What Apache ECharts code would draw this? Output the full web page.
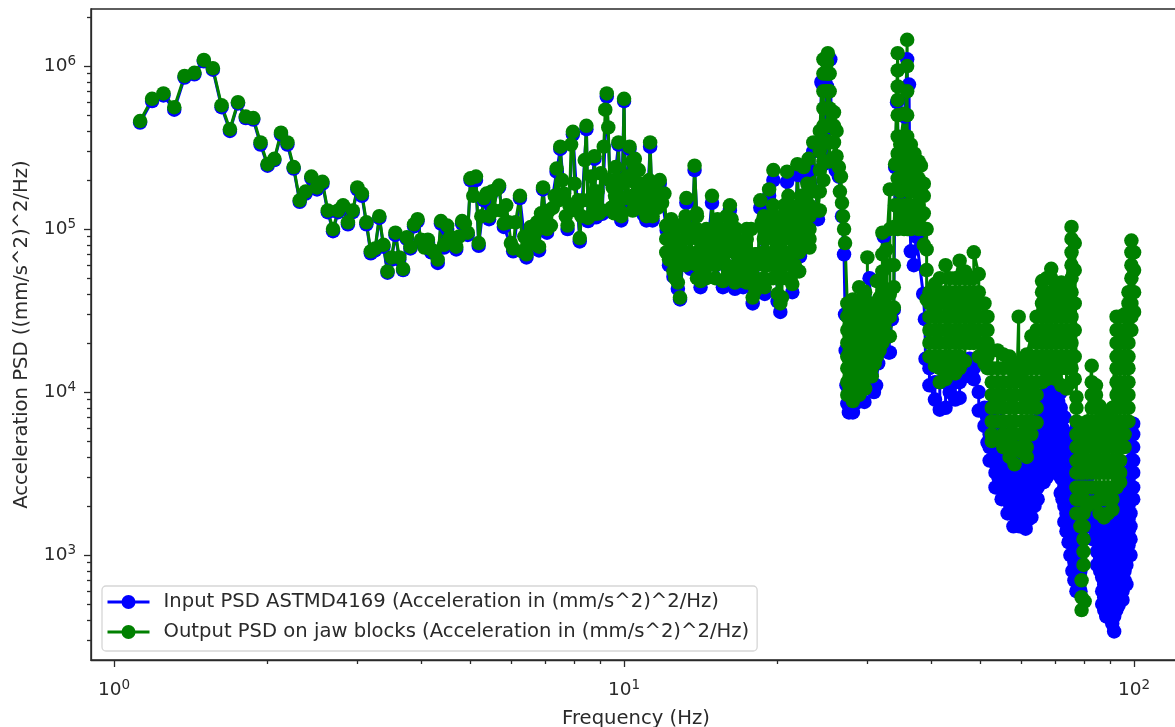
<!DOCTYPE html>
<html><head><meta charset="utf-8">
<style>html,body{margin:0;padding:0;background:#fff}#c{width:1175px;height:727px}</style>
<script src="https://cdn.jsdelivr.net/npm/echarts@6/dist/echarts.min.js"></script>
</head><body><div id="c"></div>
<script>
// Values: [frequency Hz, PSD]
const outputPoints = [
[1.125,4.6e5],[1.1875,6.3e5],[1.25,6.8e5],[1.3125,5.6e5],[1.375,8.7e5],[1.4375,9.1e5],[1.5,1.09e6],[1.5625,9.7e5],[1.625,5.75e5],[1.6875,4.1e5],[1.75,6e5],[1.8125,4.9e5],[1.875,4.8e5],[1.9375,3.4e5],[2,2.5e5],[2.0625,2.7e5],[2.125,3.9e5],[2.1875,3.4e5],[2.25,2.4e5],[2.3125,1.5e5],[2.375,1.7e5],[2.4375,2.1e5],[2.5,1.8e5],[2.5625,1.95e5],[2.625,1.3e5],[2.6875,1e5],[2.75,1.3e5],[2.8125,1.4e5],[2.875,1.1e5],[2.9375,1.3e5],[3,1.8e5],[3.0625,1.65e5],[3.125,1.1e5],[3.1875,7.3e4],[3.25,7.6e4],[3.3125,1.2e5],[3.375,8e4],[3.4375,5.5e4],[3.5,6.7e4],[3.5625,9.5e4],[3.625,6.7e4],[3.6875,5.7e4],[3.75,8.9e4],[3.8125,7.8e4],[3.875,1.07e5],[3.9375,1.15e5],
[4,8.6e4],[4.0625,7.7e4],[4.125,8.6e4],[4.1875,7.5e4],[4.25,7.2e4],[4.3125,6.5e4],[4.375,1.12e5],[4.4375,8e4],[4.5,1.05e5],[4.5625,9e4],[4.625,8.3e4],[4.6875,7.8e4],[4.75,9e4],[4.8125,1.12e5],[4.875,1.08e5],[4.9375,9.5e4],[5,2.05e5],[5.0625,1.6e5],[5.125,2.1e5],[5.1875,8.2e4],
[5.25,1.2e5],[5.3125,1.55e5],[5.375,1.65e5],[5.4375,1.2e5],[5.5,1.7e5],[5.5625,1.3e5],[5.625,1.75e5],[5.6875,1.85e5],[5.75,1.3e5],[5.8125,1.08e5],[5.875,1.4e5],[5.9375,1.1e5],[6,8.2e4],[6.0625,7.6e4],[6.125,1.1e5],[6.25,1.6e5],[6.3125,7.3e4],[6.375,9e4],[6.4375,7e4],[6.5,8.2e4],[6.5625,1.03e5],[6.625,8.2e4],[6.6875,9.5e4],[6.75,1.1e5],[6.8125,7.8e4],[6.875,1.25e5],[6.9375,1.8e5],[7,1.2e5],[7.0625,1e5],[7.125,1.3e5],[7.1875,1.05e5],[7.25,1.35e5],[7.3125,1.6e5],[7.375,2.35e5],[7.4375,1.5e5],[7.5,3.2e5],[7.5625,2e5],[7.625,1.65e5],[7.6875,1.2e5],[7.75,1.05e5],[7.8125,1.4e5],[7.875,3.3e5],[7.9375,3.95e5],[8,1.9e5],[8.0625,1.3e5],
[8.125,1.5e5],[8.1875,8.8e4],[8.25,1.2e5],[8.3125,1.5e5],[8.375,2.65e5],[8.4375,4.3e5],[8.5,1.17e5],[8.5625,1.5e5],[8.625,2.1e5],[8.6875,1.25e5],[8.75,2.8e5],[8.8125,1.24e5],[8.875,1.7e5],[8.9375,1.25e5],[9,2.2e5],[9.0625,1.3e5],[9.125,3.2e5],[9.1875,5.4e5],[9.25,6.8e5],[9.3125,4.2e5],[9.375,2e5],[9.4375,1.35e5],[9.5,1.8e5],[9.5625,1.25e5],[9.625,2.4e5],[9.6875,1.5e5],[9.75,3.4e5],[9.8125,1.3e5],[9.875,1.2e5],[9.9375,2e5],[10,6.3e5],[10.0625,1.55e5],[10.125,2.1e5],[10.1875,1.55e5],[10.25,3.2e5],[10.3125,2e5],[10.375,2.6e5],[10.4375,1.6e5],[10.5,2.7e5],[10.5625,1.9e5],[10.625,1.4e5],[10.6875,2.3e5],[10.75,1.65e5],[10.8125,1.5e5],[10.875,1.9e5],[10.9375,1.3e5],[11,1.65e5],[11.0625,1.2e5],[11.125,1.5e5],[11.25,3.4e5],
[11.375,1.2e5],[11.5,1.8e5],[11.625,1.35e5],[11.75,2e5],[11.875,1.45e5],[12,1.65e5],[12.125,1.05e5],[12.25,6.5e4],[12.375,1.15e5],[12.5,5.5e4],[12.625,8e4],[12.75,4.7e4],[12.875,3.8e4],[13,7e4],[13.125,1.1e5],[13.25,1.55e5],[13.375,9e4],[13.5,6.2e4],[13.625,1e5],[13.75,2.45e5],[13.875,1.25e5],[14,7e4],[14.125,4.8e4],[14.25,7.5e4],[14.375,5.5e4],[14.5,8.5e4],[14.625,6e4],[14.75,8e4],[14.875,1.6e5],[15,1e5],[15.125,6.5e4],[15.25,1.15e5],[15.375,7e4],[15.5,1e5],[15.625,4.8e4],[15.75,7.5e4],[15.875,1.2e5],[16,5.5e4],[16.125,1.4e5],[16.25,1.15e5],[16.375,8e4],[16.5,4.7e4],[16.625,7e4],[16.75,5e4],[17,6.5e4],[17.125,4.8e4],[17.25,8e4],[17.5,5.2e4],[17.75,1e5],[17.875,3.8e4],[18,4.5e4],[18.125,7e4],[18.25,4.5e4],[18.5,1.5e5],[18.625,1.1e5],[18.75,7e4],[18.875,4.4e4],[19,9e4],[19.125,6e4],[19.25,1.75e5],[19.375,1e5],[19.5,7e4],[19.625,2.3e5],[19.75,1.1e5],[19.875,6e4],[20,4e4],[20.125,7.5e4],[20.25,3.5e4],[20.375,1.1e5],[20.5,6e4],[20.625,1.4e5],[20.75,5e4],[20.875,2.25e5],[21,1.6e5],[21.125,7e4],[21.25,1e5],[21.375,4.6e4],[21.5,1.3e5],[21.625,6e4],[21.75,9e4],[21.875,2.5e5],[22,1.2e5],[22.125,7.7e4],[22.25,1.6e5],[22.375,1.1e5],[22.5,2.4e5],[22.625,1.15e5],[22.75,1.6e5],
[22.875,1.9e5],[23,2.7e5],[23.25,1.3e5],[23.5,3.4e5],[23.75,1.7e5],[24,1.3e5],
[26.375,2.4e5],[26.5,1.7e5],[26.625,2.1e5],[26.75,1.45e5],[26.875,1.2e5],[27,1e5],[27.125,8.2e4]
];
// Dense stretches, read column by column: [frequency Hz, [PSD values going through the column]]
const outputColumns = [
[9.6,[1.3e5,1.6e5,2e5]],[10.4,[2e5,1.6e5,1.3e5]],[11.2,[1.25e5,1.6e5,2e5]],
[12.1,[1.05e5,8.7e4,7.2e4]],[12.6,[1e5,8.7e4,7.2e4,6e4,5e4]],[13.2,[6e4,7.2e4,8.7e4,1e5,1.2e5]],[13.9,[1.2e5,1e5,8.7e4,7.2e4,6e4,5e4]],[14.5,[5e4,6e4,7.2e4,8.7e4,1e5]],[15.1,[1e5,8.7e4,7.2e4,6e4,5e4]],[15.9,[5e4,6e4,7.2e4,8.7e4,1e5]],[16.6,[1e5,8.7e4,7.2e4,6e4,5e4]],[17.4,[4.7e4,6e4,7.2e4,8.7e4,1e5]],[18.1,[7e4,6e4,5e4,4.2e4]],[18.8,[5e4,6e4,7.2e4,8.7e4,1e5,1.2e5]],[19.6,[1.4e5,1.2e5,1e5,8.7e4,7.2e4,6e4,5e4]],[20.4,[3.8e4,5e4,6e4,7.2e4,8.7e4,1e5,1.2e5]],[21.2,[1.4e5,1.2e5,1e5,8.7e4,7.2e4,6e4,5e4]],[22.05,[5.5e4,7.2e4,8.7e4,1e5,1.2e5,1.4e5]],[23.1,[1.4e5,1.2e5,1e5,8.7e4,7.7e4]],
[24.2,[1.3e5,1.7e5,2.3e5,3e5,4e5]],[24.6,[1.1e6,9e5,7e5,5.5e5,4.3e5,3.4e5,2.6e5,2e5]],[25,[2.6e5,3.4e5,4.3e5,5.5e5,7e5,9e5,1.05e6]],[25.1,[1.2e6,9e5,7e5]],[25.3,[9e5,7e5,5.5e5,4.3e5,3.4e5,2.6e5]],[25.8,[2.6e5,3.4e5,4.3e5,5.2e5]],[26.1,[4e5,2.8e5]],
[27.4,[3.5e4,2.9e4,2.4e4,2e4,1.65e4,1.4e4,1.15e4,9.6e3]],[27.7,[1.05e4,1.25e4,1.5e4,1.8e4,2.2e4,2.6e4,3.2e4]],[28.1,[3.7e4,2.9e4,2.4e4,2e4,1.65e4,1.4e4,1.15e4,8.8e3]],[28.5,[1.05e4,1.25e4,1.5e4,1.8e4,2.2e4,2.6e4,3.2e4]],[28.9,[4.4e4,3.5e4,2.9e4,2.4e4,2e4,1.65e4,1.4e4,1.15e4,9.6e3]],[29.3,[1.05e4,1.25e4,1.5e4,1.8e4,2.2e4,2.6e4,3.2e4]],[29.7,[4.1e4,3.5e4,2.9e4,2.4e4,2e4,1.65e4,1.4e4,1.05e4]],[30,[1.25e4,3.5e4,6.7e4,3.5e4]],[30.3,[3.2e4,2.6e4,2.2e4,1.8e4,1.5e4,1.25e4]],[30.6,[1.25e4,1.4e4,1.65e4,2e4,2.4e4,2.9e4,3.5e4]],[31,[3.2e4,2.6e4,2.2e4,1.8e4,1.5e4]],[31.3,[1.65e4,2e4,2.4e4,2.9e4,3.5e4,4.8e4]],[31.7,[3.8e4,3.2e4,2.6e4,2.2e4,1.8e4]],[32.1,[2e4,2.4e4,2.9e4,3.5e4,4.1e4,5.5e4,7e4,9.5e4]],[32.4,[3.8e4,3.2e4,2.6e4,2.2e4]],[32.7,[2.2e4,2.9e4,4e4,7.5e4]],[33.2,[1.75e5,1e5,6e4,4e4,2.9e4,2.2e4]],[33.8,[3.3e4,4.4e4,6e4,1.03e5]],[34,[1.4e5,2.5e5]],
[34.4,[1.2e6,9.4e5,7.5e5,6.2e5,5e5,3.7e5,2.9e5,2.05e5,1.4e5,1e5]],[34.8,[1.2e5,1.7e5,2.45e5,3.3e5]],[35.4,[5.1e5,3.7e5,2.9e5,2.05e5,1.4e5,1e5]],[35.9,[1.45e6,1e6,7e5,5e5,3.7e5,2.9e5,2.05e5,1.4e5,1e5]],[36.2,[1.2e5,1.7e5,2.45e5,3.3e5]],[36.5,[3.3e5,2.9e5,2.05e5,1.4e5,1e5]],[37.1,[1.2e5,1.7e5,2.45e5,2.9e5]],[37.4,[2.05e5,1.4e5,1.1e5]],[37.8,[1e5,1.4e5,2.05e5,2.6e5]],[38.2,[2.45e5,1.7e5,1.2e5]],[38.7,[1.9e5,1.6e5,1.25e5,1e5,8e4]],[39.2,[1e5,7.5e4,5.6e4,3.7e4]],
[39.7,[4.1e4,3.5e4,2.9e4,2.4e4,2e4,1.65e4]],[40.7,[1.45e4,1.65e4,2e4,2.4e4,2.9e4,3.5e4,4.6e4]],[41.6,[5e4,4.1e4,3.5e4,2.9e4,2.4e4,2e4,1.65e4,1.4e4,1.15e4]],[42.7,[1.2e4,1.4e4,1.65e4,2e4,2.4e4,2.9e4,3.5e4,4.1e4,6e4]],[43.5,[5e4,4.1e4,3.5e4,2.9e4,2.4e4,2e4,1.65e4,1.4e4,1.3e4]],[44.6,[1.3e4,1.65e4,2e4,2.4e4,2.9e4,3.5e4,4.1e4,5e4]],[45.5,[6.4e4,5e4,4.1e4,3.5e4,2.9e4,2.4e4,2e4,1.65e4,1.4e4]],[46.6,[1.55e4,2e4,2.4e4,2.9e4,3.5e4,4.1e4,5e4,5.5e4]],[47.6,[5e4,4.1e4,3.5e4,2.9e4,2.4e4,2e4]],[48.5,[2e4,2.4e4,2.9e4,3.5e4,4.1e4,5e4,7.2e4]],[49.6,[5.3e4,4.1e4,3.5e4,2.9e4,2.4e4,2e4,1.65e4]],[50.9,[1.5e4,1.8e4,2e4,2.4e4,2.9e4,3.5e4]],[51.6,[2.9e4,2.4e4,2e4,1.65e4,1.4e4]],
[52.6,[1.8e4,1.4e4,1.15e4,9.6e3,8e3,6.6e3,5.5e3,5e3]],[54,[5.2e3,6.6e3,8e3,9.6e3,1.15e4,1.4e4,1.8e4]],[55.4,[1.7e4,1.4e4,1.15e4,9.6e3,8e3,6.6e3,5.5e3,4.6e3]],[57,[4e3,4.6e3,5.5e3,6.6e3,8e3,9.6e3,1.15e4,1.4e4,1.65e4]],[58.3,[1.25e4,9.6e3,8e3,6.6e3,5.5e3,4.6e3,3.6e3]],[59.4,[2.9e4,1.5e4]],[60.2,[1.3e4,1.15e4,9.6e3,8e3,6.6e3,5.5e3,4.6e3,4.3e3]],[61.6,[4e3,4.6e3,5.5e3,6.6e3,8e3,9.6e3,1.15e4,1.4e4,1.7e4]],[62.9,[2.2e4,1.65e4,1.4e4,1.15e4,9.6e3,8e3,6.6e3,5.5e3]],[64.4,[6.5e3,8e3,9.6e3,1.15e4,1.4e4,1.65e4,2e4,2.4e4,2.9e4]],[66,[4.8e4,4.1e4,3.5e4,2.9e4,2.4e4,2e4,1.65e4,1.4e4,1.15e4]],[67.4,[1.2e4,1.4e4,1.65e4,2e4,2.4e4,2.9e4,3.5e4,4.1e4,5e4]],[68.8,[5.7e4,5e4,4.1e4,3.5e4,2.9e4,2.4e4,2e4,1.65e4,1.4e4]],[70.3,[1.2e4,1.4e4,1.65e4,2e4,2.4e4,2.9e4,3.5e4,4.1e4,4.5e4]],[72,[4.7e4,4.1e4,3.5e4,2.9e4,2.4e4,2e4,1.65e4,1.4e4,1.1e4]],[73.7,[1.05e4,1.4e4,1.65e4,2e4,2.4e4,2.9e4,3.5e4,4.1e4,4.5e4]],[75.4,[1.03e5,8.7e4,7.2e4,6e4,5e4,4.1e4,3.5e4,2.9e4,2.4e4,2e4,1.65e4,1.4e4,1.15e4]],[76.5,[1.2e4,1.65e4,2.4e4,3.5e4,5.6e4,8.2e4]],
[77.1,[9.3e3,8e3,6.6e3,5.5e3,4.6e3,3.8e3,3.2e3,2.6e3,2.2e3,1.8e3]],[78.5,[1.5e3,1.8e3,2.2e3,2.6e3,3.2e3,3.8e3,4.6e3,5.5e3,6e3]],[78.9,[7e2,5.5e2,4.6e2]],[79.6,[5.5e3,4.6e3,3.8e3,3.2e3,2.6e3,2.2e3,1.8e3,1.5e3,1.25e3,1.05e3,8.7e2]],[80,[5.2e2]],
[81,[2e3,2.6e3,3.2e3,3.8e3,4.6e3,5.5e3,6.6e3]],[82.6,[1.45e4,1.15e4,9.6e3,8e3,6.6e3,5.5e3,4.6e3,3.8e3,3.2e3,2.6e3,2.1e3]],[84.2,[2.1e3,2.6e3,3.2e3,3.8e3,4.6e3,5.5e3,6.6e3,8e3,9.6e3,1.1e4]],[85.6,[8.2e3,6.6e3,5.5e3,4.6e3,3.8e3,3.2e3,2.6e3,2.2e3,1.8e3]],[87.3,[1.7e3,2.2e3,2.6e3,3.2e3,3.8e3,4.6e3,5.5e3,6.6e3,7.5e3]],[88.9,[7.5e3,6.6e3,5.5e3,4.6e3,3.8e3,3.2e3,2.6e3,2.2e3,1.8e3]],[90.7,[1.9e3,2.2e3,2.6e3,3.2e3,3.8e3,4.6e3,5.5e3,6.6e3,8e3]],[92.4,[2.9e4,2.4e4,2e4,1.65e4,1.4e4,1.15e4,9.6e3,8e3,6.6e3,5.5e3,4.6e3,3.8e3,3.2e3,2.6e3]],[93.9,[2.8e3,3.2e3,3.8e3,4.6e3,5.5e3,6.6e3,8e3,9.6e3,1.15e4,1.4e4,1.65e4,2e4,2.9e4]],[95.8,[3e4,2.4e4,2e4,1.65e4,1.4e4,1.15e4,9.6e3,8e3,6.6e3,5.5e3,4.6e3]],[97.5,[6.6e3,8e3,9.6e3,1.15e4,1.4e4,1.65e4,2e4,2.4e4,2.9e4,3.5e4,4.1e4]],[98.8,[8.5e4,7.2e4,6e4,5e4,4.1e4,3.5e4,2.9e4,2.4e4]],[100,[3.1e4,4.1e4,5.6e4,7.2e4]]
];
const inputPoints = [
[1.125,4.5e5],[1.1875,6.1e5],[1.25,6.6e5],[1.3125,5.4e5],[1.375,8.5e5],[1.4375,8.9e5],[1.5,1.07e6],[1.5625,9.5e5],[1.625,5.6e5],[1.6875,4e5],[1.75,5.9e5],[1.8125,4.8e5],[1.875,4.7e5],[1.9375,3.3e5],[2,2.45e5],[2.0625,2.65e5],[2.125,3.8e5],[2.1875,3.3e5],[2.25,2.35e5],[2.3125,1.47e5],[2.375,1.65e5],[2.4375,2.05e5],[2.5,1.75e5],[2.5625,1.9e5],[2.625,1.27e5],[2.6875,9.7e4],[2.75,1.27e5],[2.8125,1.37e5],[2.875,1.07e5],[2.9375,1.27e5],[3,1.75e5],[3.0625,1.6e5],[3.125,1.07e5],[3.1875,7.1e4],[3.25,7.4e4],[3.3125,1.17e5],[3.375,7.8e4],[3.4375,5.4e4],[3.5,6.5e4],[3.5625,9.2e4],[3.625,6.5e4],[3.6875,5.6e4],[3.75,8.7e4],[3.8125,7.6e4],[3.875,1.04e5],[3.9375,1.12e5],
[4,8.3e4],[4.125,8.3e4],[4.1875,7.2e4],[4.3125,6.2e4],[4.375,1.08e5],[4.4375,7.7e4],[4.5,1e5],[4.6875,7.5e4],[4.8125,1.08e5],[4.9375,9.2e4],[5,2e5],[5.125,2e5],[5.1875,7.9e4],[5.3125,1.5e5],[5.4375,1.15e5],[5.6875,1.8e5],[5.8125,1.03e5],[6.0625,7.3e4],[6.25,1.55e5],[6.4375,6.7e4],[6.625,7.8e4],[6.8125,7.4e4],[6.9375,1.75e5],[7.0625,9.5e4],[7.375,2.25e5],[7.5,3.1e5],[7.75,1e5],[7.9375,3.8e5],[8.1875,8.4e4],[8.4375,4.1e5],[8.5,1.12e5],[8.75,2.7e5],[8.8125,1.18e5],[9.0625,1.24e5],[9.25,6.5e5],[9.4375,1.28e5],[9.75,3.3e5],[9.875,1.13e5],[10,6.1e5],[10.0625,1.47e5],[10.25,3.1e5],[10.4375,1.5e5],[10.625,1.32e5],[10.9375,1.22e5],[11.0625,1.13e5],[11.25,3.2e5],
[11.375,1.13e5],[11.75,1.9e5],[12.125,9.8e4],[12.25,6e4],[12.5,5.1e4],[12.75,4.3e4],[12.875,3.7e4],[13.25,1.45e5],[13.5,5.7e4],[13.75,2.3e5],[14.125,4.4e4],[14.375,5.1e4],[14.875,1.45e5],[15.125,6e4],[15.625,4.4e4],[16,5e4],[16.125,1.3e5],[16.5,4.3e4],[16.75,4.6e4],[17.125,4.4e4],[17.5,4.7e4],[17.875,3.5e4],[18.25,4.1e4],[18.5,1.35e5],[18.875,4e4],[19.25,1.6e5],[19.625,2e5],[20,3.6e4],[20.25,3.1e4],[20.875,1.95e5],[21.375,4.1e4],[21.875,2.15e5],[22.125,6.8e4],[22.5,2.1e5],[22.625,1e5],
[23,2.3e5],[23.25,1.15e5],[23.5,3e5],[24,1.15e5],[24.25,3e5],[24.375,8e5],[24.5,7.7e5],[24.625,2.5e5],[25,7.5e5],[25.375,1.1e6],[25.5,4.2e5],[25.75,4.2e5],[26,2.3e5],[26.375,2.1e5],[26.75,1.2e5],[27,7e4],[27.125,3e4],
[27.2,1.8e4],[27.3,1.1e4],[27.4,8.5e3],[27.6,7.5e3],[28.1,7.5e3],[28.4,8.5e3],[28.7,1.2e4],[29,3e4],[29.2,2.9e4],[29.6,8.7e3],[30,1.5e4],[30.3,5e4],[30.6,1.5e4],[30.9,1e4],[31.2,1.1e4],[31.5,1.5e4],[32,3.2e4],[32.3,9e4],[32.6,2.3e4],[33,1.75e4],[33.2,1.75e4],[33.5,2.8e4],[33.8,3.2e4],[34,2.4e5],[34.3,6e5],[34.5,2.9e5],[35,1.6e5],[35.5,4.9e5],[35.9,1.1e6],[36.1,1e5],[36.2,7.7e5],[36.4,1e5],[36.5,7.3e4],[37,6e4],[37.4,9e4],[38.6,4e4],[38.9,2.8e4],[39,1.6e4]
];
const inputColumns = [
[39.7,[1.4e4,1.1e4]],[40.7,[9e3,1.15e4]],[41.6,[1.15e4,7.8e3]],[42.7,[8e3,1.15e4]],[43.5,[1.15e4,1e4]],[44.6,[1.15e4,9e3]],[45.5,[9.2e3,1.15e4]],[46.6,[1.25e4,1.4e4]],[47.6,[1.5e4,1.6e4]],[48.5,[1.4e4,1.2e4]],[49.6,[1e4,7.7e3]],[50.9,[6.2e3,8e3]],[51.6,[4.9e3,7e3]],
[52.1,[8e3,6.6e3,5.5e3,4.6e3,3.8e3]],[53.5,[2.6e3,3.2e3,3.8e3,4.6e3,5.5e3,6.6e3,8e3]],[54.2,[5e3,4.2e3,3.5e3,3e3]],[55,[8e3,6.6e3,5.5e3,4.6e3,3.8e3,3.2e3,2.6e3,2.2e3]],[55.7,[2.4e3,2.9e3,3.5e3,4.2e3,5e3]],[56.5,[5.5e3,4.6e3,3.8e3,3.2e3,2.6e3,2.2e3,1.8e3]],[57.2,[2e3,2.4e3,2.9e3,3.5e3,4.2e3,5e3]],[58,[5.5e3,4.6e3,3.8e3,3.2e3,2.6e3,2.2e3,1.8e3,1.5e3]],[59,[1.65e3,2e3,2.4e3,2.9e3,3.5e3,4.2e3]],[59.6,[4.6e3,3.8e3,3.2e3,2.6e3,2.2e3,1.8e3,1.5e3]],[60.4,[1.65e3,2e3,2.4e3,2.9e3,3.5e3,4.2e3]],[61.3,[5.5e3,4.6e3,3.8e3,3.2e3,2.6e3,2.2e3,1.8e3,1.45e3]],[62,[1.65e3,2e3,2.4e3,2.9e3,3.5e3,4.2e3,5e3]],[62.9,[6.6e3,5.5e3,4.6e3,3.8e3,3.2e3,2.6e3,2.2e3,1.7e3]],[63.8,[2e3,2.4e3,2.9e3,3.5e3,4.2e3,5e3,6e3]],[64.7,[8e3,6.6e3,5.5e3,4.6e3,3.8e3,3.2e3,2.6e3,2.2e3]],[65.6,[2.9e3,3.5e3,4.2e3,5e3,6e3,7.3e3]],[66.5,[1.15e4,9.6e3,8e3,6.6e3,5.5e3,4.6e3,3.8e3,3.2e3,2.8e3]],[67.4,[3e3,3.5e3,4.2e3,5e3,6e3,7.3e3,8.8e3,1.05e4]],[68.3,[1.3e4,1.15e4,9.6e3,8e3,6.6e3,5.5e3,4.6e3,3.8e3,3.3e3]],[69.2,[3.5e3,4.2e3,5e3,6e3,7.3e3,8.8e3,1.05e4]],[70.1,[1.15e4,9.6e3,8e3,6.6e3,5.5e3,4.6e3,3.8e3,3.2e3]],[71,[3.5e3,4.2e3,5e3,6e3,7.3e3,8.8e3]],[71.8,[1e4,8e3,6.6e3,5.5e3,4.6e3,3.8e3,3e3,2.4e3]],[72.4,[2.2e3,2.9e3,3.5e3,4.2e3,5e3,6e3]],[73,[7e3,5.5e3,4.6e3,3.8e3,3.2e3,2.6e3,2e3,1.6e3]],[73.7,[1.4e3,1.8e3,2.3e3,2.9e3,3.5e3,4.2e3,5e3]],[74.4,[5.5e3,4.6e3,3.8e3,3.2e3,2.6e3,2e3,1.5e3,1.2e3]],[75,[1e3,1.4e3,1.65e3,2e3,2.4e3,2.9e3,3.5e3]],[75.7,[5e3,4e3,3.2e3,2.6e3,2.2e3,1.8e3,1.5e3,1.25e3,1e3,8e2]],[76.4,[7e2,9e2,1.15e3,1.4e3,1.65e3,2e3,2.4e3,2.9e3]],[77.1,[6e3,4e3,3e3,2e3,1.5e3,1e3,7e2,6e2]],
[78.5,[6e2,8e2,1.5e3,3e3]],[81,[3e3,1.5e3]],[83,[2.2e3,1.8e3,1.5e3,1.25e3]],[84.6,[8.7e2,1.05e3,1.25e3,1.5e3,1.8e3,2.2e3]],[85.8,[2e3,1.65e3,1.4e3,1.15e3,9.6e2,8e2]],[86.6,[5e2,6e2,7.3e2,8.7e2,1.05e3,1.25e3,1.5e3,1.8e3,2.2e3]],[87.4,[2e3,1.65e3,1.4e3,1.15e3,9.6e2,8e2,6.6e2,5.5e2,4.6e2]],[88.2,[4.2e2,5e2,6e2,7.3e2,8.7e2,1.05e3,1.25e3,1.5e3,1.8e3,2.2e3]],[89,[2e3,1.65e3,1.4e3,1.15e3,9.6e2,8e2,6.6e2,5.5e2,4.6e2]],[89.9,[4.2e2,5e2,6e2,7.3e2,8.7e2,1.05e3,1.25e3,1.5e3,1.8e3,2e3]],[90.6,[2e3,1.65e3,1.4e3,1.15e3,9.6e2,8e2,6.6e2,5.5e2,4.6e2,3.8e2]],[91.4,[3.4e2,4.2e2,5e2,6e2,7.3e2,8.7e2,1.05e3,1.25e3,1.5e3,1.8e3,2.2e3]],[92.3,[2e3,1.65e3,1.4e3,1.15e3,9.6e2,8e2,6.6e2,5.5e2,4.6e2]],[93.2,[4.9e2,6e2,7.3e2,8.7e2,1.05e3,1.25e3,1.5e3,1.8e3,2.2e3]],[94,[2e3,1.65e3,1.4e3,1.15e3,9.6e2,8e2,6.6e2,5.5e2]],[94.9,[5.3e2,6e2,7.3e2,8.7e2,1.05e3,1.25e3,1.5e3,1.8e3,2.2e3,2.6e3]],[95.8,[2.4e3,2e3,1.65e3,1.4e3,1.15e3,9.6e2,8e2,7e2]],[96.6,[6.6e2,8.7e2,1.05e3,1.25e3,1.5e3,1.8e3,2.2e3,2.6e3,3.2e3]],[97.5,[2.9e3,2.4e3,2e3,1.65e3,1.4e3,1.15e3,1e3]],[98.4,[1e3,1.25e3,1.5e3,1.8e3,2.2e3,2.6e3,3.2e3,3.8e3,4.6e3,5.5e3]],[99.6,[6.4e3,5.5e3,4.6e3,3.8e3,3.2e3,2.6e3,2.2e3]]
];
const xMajorTicks = [1, 10, 100];
const xMinorTicks = [2,3,4,5,6,7,8,9,20,30,40,50,60,70,80,90];
const yMajorTicks = [1e3, 1e4, 1e5, 1e6];
const yMinorTicks = [3e2,4e2,5e2,6e2,7e2,8e2,9e2,2e3,3e3,4e3,5e3,6e3,7e3,8e3,9e3,2e4,3e4,4e4,5e4,6e4,7e4,8e4,9e4,2e5,3e5,4e5,5e5,6e5,7e5,8e5,9e5,2e6];
const seriesNames = ['Input PSD ASTMD4169 (Acceleration in (mm/s^2)^2/Hz)','Output PSD on jaw blocks (Acceleration in (mm/s^2)^2/Hz)'];
const xLabel = 'Frequency (Hz)', yLabel = 'Acceleration PSD ((mm/s^2)^2/Hz)';

const build = (pts, cols) => pts.concat(cols.flatMap(([f, vs]) => vs.map(v => [f, v]))).map((p,i)=>[p,i]).sort((a,b)=>a[0][0]-b[0][0]||a[1]-b[1]).map(p=>p[0]);
const font = 'DejaVu Sans', ink = '#2a2a2a', fs = 19.6;
const pow10Label = v => `{b|10}{s|${Math.round(Math.log10(v))}}`;
const rich = {b:{fontFamily:font,fontSize:18.5,color:ink},s:{fontFamily:font,fontSize:13.5,color:ink,verticalAlign:'bottom',padding:[0,0,10,0]}};
const xRange = {type:'log',min:0.9013,max:123.6};
const yRange = {type:'log',min:227,max:2.24e6};
const line = {lineStyle:{color:ink,width:1.3}};
const chart = echarts.init(document.getElementById('c'),null,{renderer:'canvas'});
const mk = (name,data,color)=>({name,type:'line',data,color,symbol:'circle',symbolSize:14.5,showSymbol:true,showAllSymbol:true,
  lineStyle:{color,width:3},itemStyle:{color},animation:false,silent:true,clip:true,emphasis:{disabled:true}});
chart.setOption({
  animation:false,backgroundColor:'#fff',
  grid:{left:91,top:9,width:1090,height:651,outerBoundsMode:'none',containLabel:false,show:true,borderColor:ink,borderWidth:1.5,backgroundColor:'transparent'},
  legend:{left:102,top:586,orient:'vertical',padding:[6,8,9,4],itemGap:10,itemWidth:42,itemHeight:17.5,lineStyle:{width:3},backgroundColor:'rgba(255,255,255,0.85)',borderColor:'#d6d6d6',borderWidth:1.3,borderRadius:4,
    textStyle:{fontFamily:font,fontSize:fs,color:ink,padding:[0,0,0,9]},data:seriesNames},
  xAxis:[
    {...xRange,name:xLabel,nameLocation:'middle',nameGap:49,nameTextStyle:{fontFamily:font,fontSize:fs,color:ink},axisLine:{show:true,onZero:false,...line},splitLine:{show:false},
     axisTick:{show:true,length:7,customValues:xMajorTicks,...line},axisLabel:{customValues:xMajorTicks,formatter:pow10Label,rich,margin:18}},
    {...xRange,position:'bottom',axisLine:{show:false,onZero:false},splitLine:{show:false},axisTick:{show:true,length:4,customValues:xMinorTicks,...line},axisLabel:{show:false}}
  ],
  yAxis:[
    {...yRange,name:yLabel,nameLocation:'middle',nameGap:59,nameTextStyle:{fontFamily:font,fontSize:fs,color:ink},axisLine:{show:true,onZero:false,...line},splitLine:{show:false},
     axisTick:{show:true,length:7,customValues:yMajorTicks,...line},axisLabel:{customValues:yMajorTicks,formatter:pow10Label,rich,margin:15}},
    {...yRange,position:'left',axisLine:{show:false,onZero:false},splitLine:{show:false},axisTick:{show:true,length:4,customValues:yMinorTicks,...line},axisLabel:{show:false}}
  ],
  series:[mk(seriesNames[0],build(inputPoints,inputColumns),'#0000ff'),mk(seriesNames[1],build(outputPoints,outputColumns),'#008000')]
});
</script></body></html>
